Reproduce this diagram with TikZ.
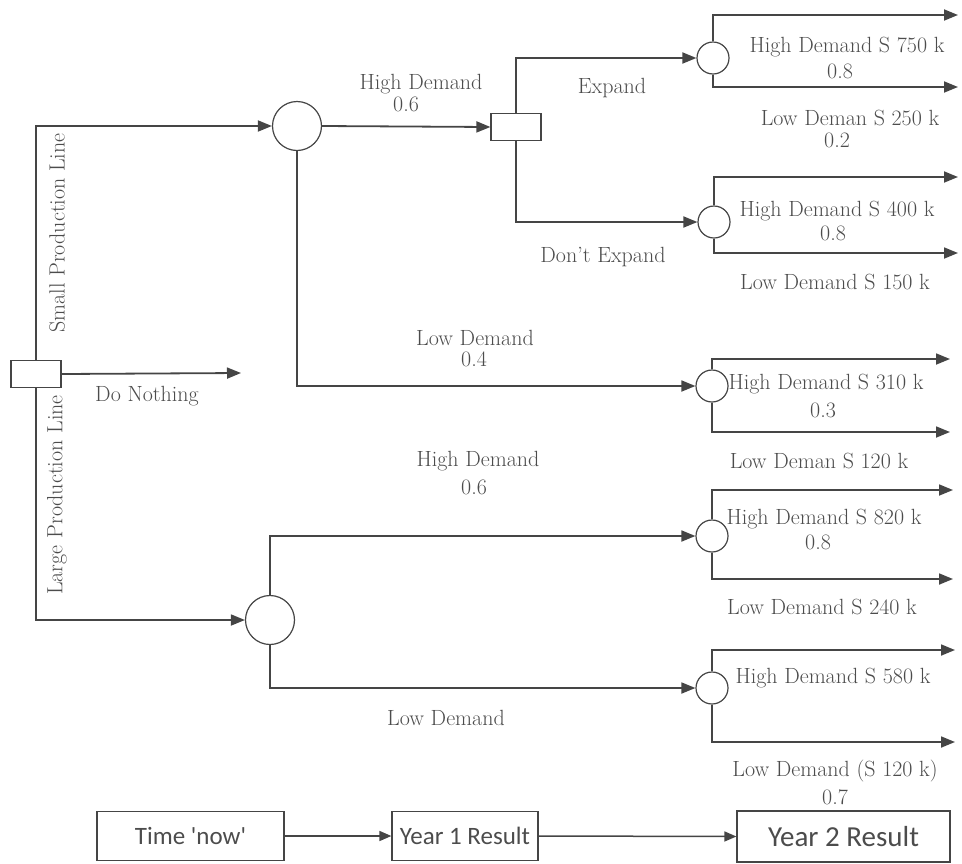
\documentclass[tikz,border=0pt]{standalone}
\usepackage{fontspec}
\newfontfamily\boxfont[Ligatures=TeXOff]{Carlito}
\usetikzlibrary{arrows.meta}
\definecolor{ln}{HTML}{454545}
\definecolor{tx}{HTML}{4C4C4C}
\begin{document}
\begin{tikzpicture}[x=1pt,y=-1pt,
  line/.style={draw=ln,line width=1.8pt},
  arr/.style={line,-{Triangle[length=14pt,width=11pt]}},
  sarr/.style={draw=ln,line width=1.5pt,-{Triangle[length=12pt,width=10pt]}},
  dec/.style={draw=ln,line width=1.2pt,fill=white,minimum width=50pt,minimum height=27pt,inner sep=0pt},
  bigc/.style={circle,draw=ln,line width=1.2pt,fill=white,minimum size=49pt,inner sep=0pt},
  smc/.style={circle,draw=ln,line width=1.2pt,fill=white,minimum size=32pt,inner sep=0pt},
  lbl/.style={text=tx,font=\fontsize{22}{26}\selectfont,inner sep=0pt},
  tbox/.style={draw=ln,line width=1.2pt,text=tx,inner sep=0pt,minimum height=49pt},
]
\useasboundingbox (0,0) rectangle (962,863);

% decision and chance nodes
\node[dec] (d0) at (36,374) {};
\node[bigc] (c1) at (297,126) {};
\node[dec] (d1) at (516,127) {};
\node[smc] (c2) at (713,58) {};
\node[smc] (c3) at (714,222) {};
\node[smc] (c4) at (712,386) {};
\node[bigc] (c5) at (270,620) {};
\node[smc] (c6) at (712,536) {};
\node[smc] (c7) at (712,688) {};

% free ends
\coordinate (dn) at (241,373);
\coordinate (e2a) at (958,15);
\coordinate (e2b) at (958,87);
\coordinate (e3a) at (958,177);
\coordinate (e3b) at (958,253);
\coordinate (e4a) at (950,359);
\coordinate (e4b) at (950,432);
\coordinate (e6a) at (953,490);
\coordinate (e6b) at (953,579);
\coordinate (e7a) at (955,650);
\coordinate (e7b) at (955,742);

% connectors
\draw[arr] (d0.north) |- (c1.west);
\draw[arr] (d0.east) -- (dn);
\draw[arr] (d0.south) |- (c5.west);
\draw[arr] (c1.east) -- (d1.west);
\draw[arr] (c1.south) |- (c4.west);
\draw[arr] (d1.north) |- (c2.west);
\draw[arr] (d1.south) |- (c3.west);
\draw[arr] (c5.north) |- (c6.west);
\draw[arr] (c5.south) |- (c7.west);
\draw[arr] (c2.north) |- (e2a);
\draw[arr] (c2.south) |- (e2b);
\draw[arr] (c3.north) |- (e3a);
\draw[arr] (c3.south) |- (e3b);
\draw[arr] (c4.north) |- (e4a);
\draw[arr] (c4.south) |- (e4b);
\draw[arr] (c6.north) |- (e6a);
\draw[arr] (c6.south) |- (e6b);
\draw[arr] (c7.north) |- (e7a);
\draw[arr] (c7.south) |- (e7b);

% labels
\node[lbl,rotate=90] (spl) at (57,233) {Small Production Line};
\node[lbl,rotate=90] (lpl) at (57,495) {Large Production Line};
\node[lbl] (dnl) at (147,396) {Do Nothing};
\node[lbl] (hd1) at (421,84) {High Demand};
\node[lbl] (hd1p) at (406,104) {0.6};
\node[lbl] (exl) at (612,88) {Expand};
\node[lbl] (dexl) at (603,257) {Don't Expand};
\node[lbl] (o1) at (847,47) {High Demand S 750 k};
\node[lbl] (o1p) at (840,71) {0.8};
\node[lbl] (o2) at (850,118) {Low Deman S 250 k};
\node[lbl] (o2p) at (837,140) {0.2};
\node[lbl] (o3) at (837,211) {High Demand S 400 k};
\node[lbl] (o3p) at (833,233) {0.8};
\node[lbl] (o4) at (835,282) {Low Demand S 150 k};
\node[lbl] (ld1) at (475,338) {Low Demand};
\node[lbl] (ld1p) at (474,359) {0.4};
\node[lbl] (o5) at (826,384) {High Demand S 310 k};
\node[lbl] (o5p) at (823,410) {0.3};
\node[lbl] (o6) at (819,461) {Low Deman S 120 k};
\node[lbl] (hd2) at (478,461) {High Demand};
\node[lbl] (hd2p) at (474,487) {0.6};
\node[lbl] (o7) at (824,519) {High Demand S 820 k};
\node[lbl] (o7p) at (818,542) {0.8};
\node[lbl] (o8) at (822,607) {Low Demand S 240 k};
\node[lbl] (o9) at (833,678) {High Demand S 580 k};
\node[lbl] (ld2) at (446,718) {Low Demand};
\node[lbl] (o10) at (835,771) {Low Demand (S 120 k)};
\node[lbl] (o10p) at (835,797) {0.7};

% time line
\node[tbox,minimum width=187pt,font=\boxfont\fontsize{25}{30}\selectfont] (b1) at (190.5,836) {Time 'now'};
\node[tbox,minimum width=146pt,font=\boxfont\fontsize{25}{30}\selectfont] (b2) at (465,836) {Year 1 Result};
\node[tbox,minimum width=213pt,minimum height=51pt,font=\boxfont\fontsize{29}{33}\selectfont] (b3) at (843.5,836.5) {Year 2 Result};
\draw[sarr] (b1.east) -- (b2.west);
\draw[sarr] (b2.east) -- (b3.west);
\end{tikzpicture}
\end{document}
